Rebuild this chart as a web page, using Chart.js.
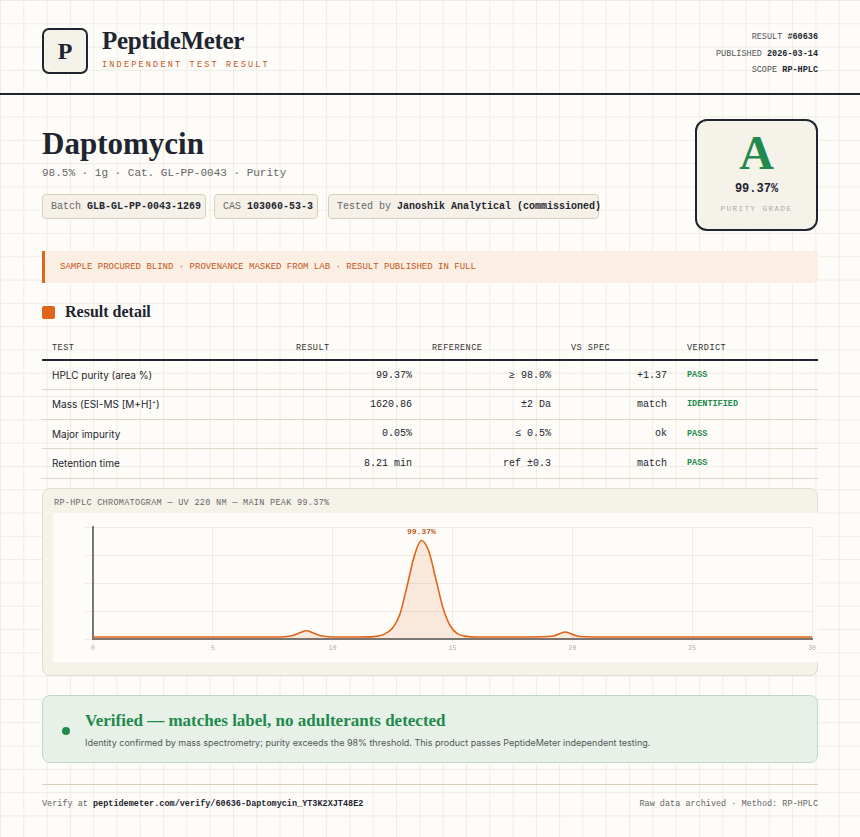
<!DOCTYPE html>
<html><head><meta charset="utf-8">
<script src="https://cdn.jsdelivr.net/npm/chart.js@4"></script>
<style>
*{box-sizing:border-box;margin:0;padding:0}
body{width:860px;height:837px;overflow:hidden;background-color:#fdfcf8;background-image:linear-gradient(#eeece4 1px,transparent 1px),linear-gradient(90deg,#eeece4 1px,transparent 1px);background-size:23.3px 23.3px;font-family:Inter,sans-serif;color:#1e2530;position:relative}
.mono{font-family:"Liberation Mono","DejaVu Sans Mono",monospace}
.serif{font-family:"Liberation Serif","DejaVu Serif",serif}
.abs{position:absolute}
.logo{left:42px;top:28px;width:46px;height:46px;border:2px solid #1e2530;border-radius:7px;background:#f5f2ea;display:flex;align-items:center;justify-content:center;font-size:24px;font-weight:bold}
.chip{position:absolute;top:194px;height:25px;border:1px solid #d9ceb8;border-radius:4px;background:#f5f1e8;font-size:10px;color:#666;line-height:23px;padding:0 8px;white-space:nowrap}
.chip b{color:#1e2530}
table{position:absolute;left:42px;top:337px;width:776px;border-collapse:collapse;font-size:10px}
th{font-family:"Liberation Mono",monospace;font-size:8.5px;font-weight:normal;color:#333;text-align:left;height:23px;border-bottom:2px solid #1e2530;letter-spacing:.5px}
td{height:29.5px;border-bottom:1px solid #ddd7c9;color:#1e2530}
td.r{text-align:right;font-family:"Liberation Mono",monospace}
td.v{font-family:"Liberation Mono",monospace;font-weight:bold;color:#1f8a4c;font-size:8.5px;padding-left:20px}
</style></head><body>
<div class="abs logo serif">P</div>
<div class="abs serif" style="left:102px;top:27px;font-size:25px;font-weight:bold;letter-spacing:-0.3px">PeptideMeter</div>
<div class="abs mono" style="left:102px;top:60px;font-size:8.5px;color:#c4561a;letter-spacing:2.2px">INDEPENDENT TEST RESULT</div>
<div class="abs mono" style="right:42px;top:29px;font-size:8.5px;color:#555;text-align:right;line-height:16.7px">RESULT <b style="color:#1e2530">#60636</b><br>PUBLISHED <b style="color:#1e2530">2026-03-14</b><br>SCOPE <b style="color:#1e2530">RP-HPLC</b></div>
<div class="abs" style="left:0;top:93px;width:860px;height:2px;background:#1e2530"></div>
<div class="abs serif" style="left:42px;top:126px;font-size:31px;font-weight:bold">Daptomycin</div>
<div class="abs mono" style="left:42px;top:167px;font-size:11px;color:#666">98.5% · 1g · Cat. GL-PP-0043 · Purity</div>
<div class="chip mono" style="left:42px;width:164px">Batch <b>GLB-GL-PP-0043-1269</b></div>
<div class="chip mono" style="left:214px;width:104px">CAS <b>103060-53-3</b></div>
<div class="chip mono" style="left:328px;width:271px">Tested by <b>Janoshik Analytical (commissioned)</b></div>
<div class="abs" style="left:695px;top:119px;width:123px;height:112px;border:2px solid #1e2530;border-radius:12px;background:#f5f2ea;text-align:center">
<div class="serif" style="font-size:48px;font-weight:bold;color:#1f8a4c;margin-top:7px;line-height:50px">A</div>
<div class="mono" style="font-size:12px;font-weight:bold;margin-top:4px">99.37%</div>
<div class="mono" style="font-size:7.5px;color:#aaa;letter-spacing:1.5px;margin-top:9px">PURITY GRADE</div></div>
<div class="abs mono" style="left:42px;top:251px;width:776px;height:32px;background:#fbeee2;border-left:3px solid #e0641a;font-size:9px;color:#c4561a;line-height:32px;padding-left:15px">SAMPLE PROCURED BLIND · PROVENANCE MASKED FROM LAB · RESULT PUBLISHED IN FULL</div>
<div class="abs" style="left:42px;top:306px;width:13px;height:13px;background:#e0641a;border-radius:2px"></div>
<div class="abs serif" style="left:65px;top:303px;font-size:16px;font-weight:bold">Result detail</div>
<table>
<tr><th style="padding-left:10px;width:200px">TEST</th><th style="width:170px;padding-left:54px">RESULT</th><th style="width:139px;padding-left:20px">REFERENCE</th><th style="width:116px;padding-left:20px">VS SPEC</th><th style="padding-left:20px">VERDICT</th></tr>
<tr><td style="padding-left:10px">HPLC purity (area %)</td><td class="r">99.37%</td><td class="r">≥ 98.0%</td><td class="r">+1.37</td><td class="v">PASS</td></tr>
<tr><td style="padding-left:10px">Mass (ESI-MS [M+H]<sup style="font-size:6px">+</sup>)</td><td class="r">1620.86</td><td class="r">±2 Da</td><td class="r">match</td><td class="v">IDENTIFIED</td></tr>
<tr><td style="padding-left:10px">Major impurity</td><td class="r">0.05%</td><td class="r">≤ 0.5%</td><td class="r">ok</td><td class="v">PASS</td></tr>
<tr><td style="padding-left:10px">Retention time</td><td class="r">8.21 min</td><td class="r">ref ±0.3</td><td class="r">match</td><td class="v">PASS</td></tr>
</table>
<div class="abs" style="left:42px;top:488px;width:776px;height:188px;background:#f5f2ea;border:1px solid #e2ddd0;border-radius:8px">
<div class="mono" style="position:absolute;left:11px;top:9px;font-size:8.5px;color:#666;letter-spacing:.3px">RP-HPLC CHROMATOGRAM — UV 220 NM — MAIN PEAK 99.37%</div>
<div style="position:absolute;left:10px;top:24px;width:765px;height:149px;background:#fdfcf8">
<canvas id="c" width="765" height="149"></canvas></div></div>
<div class="abs" style="left:42px;top:695px;width:776px;height:68px;background:#e7f1e8;border:1px solid #bcdac3;border-radius:8px">
<div style="position:absolute;left:19px;top:31px;width:8px;height:8px;border-radius:50%;background:#1f8a4c"></div>
<div class="serif" style="position:absolute;left:42px;top:15px;font-size:17px;font-weight:bold;color:#1f8a4c">Verified — matches label, no adulterants detected</div>
<div style="position:absolute;left:42px;top:41px;font-size:9px;color:#555">Identity confirmed by mass spectrometry; purity exceeds the 98% threshold. This product passes PeptideMeter independent testing.</div></div>
<div class="abs" style="left:42px;top:784px;width:776px;height:1px;background:#d9ceb8"></div>
<div class="abs mono" style="left:42px;top:799px;font-size:8.5px;color:#666">Verify at <b style="color:#1e2530">peptidemeter.com/verify/60636-Daptomycin_YT3K2XJT48E2</b></div>
<div class="abs mono" style="right:42px;top:799px;font-size:8.5px;color:#666">Raw data archived · Method: RP-HPLC</div>
<script>
const timeMin=[0,2,4,6,7.8,8.3,8.6,8.9,9.2,9.5,10,11,11.7,12.1,12.5,12.8,13.1,13.4,13.7,14.0,14.3,14.6,14.9,15.2,15.6,16,18,19.2,19.7,20.2,21,24,27,30];
const signal=[2,2,2,2,2,3,5.5,7.5,5.5,3,2,2,2.3,4,10,22,47,74,88,79,54,28,12,5,2.5,2,2,2.8,6.4,2.8,2,2,2,2];
const xTicks=[0,5,10,15,20,25,30];
const peakLabel="99.37%";
const pts=timeMin.map((t,i)=>({x:t,y:signal[i]}));
const lbl={id:'lbl',afterDatasetsDraw(ch){const c=ch.ctx,xs=ch.scales.x,ys=ch.scales.y;const i=signal.indexOf(Math.max(...signal));c.save();c.font='bold 8px "Liberation Mono",monospace';c.fillStyle='#c4561a';c.textAlign='center';c.fillText(peakLabel,xs.getPixelForValue(timeMin[i]),ys.getPixelForValue(signal[i])-6);c.restore();}};
new Chart(document.getElementById('c'),{type:'line',data:{datasets:[{data:pts,borderColor:'#e0641a',borderWidth:1.6,fill:true,backgroundColor:'rgba(224,100,26,0.12)',pointRadius:0,tension:0.4,cubicInterpolationMode:'monotone'}]},
options:{responsive:false,animation:false,layout:{padding:{left:32,right:5,top:14,bottom:8}},plugins:{legend:{display:false},tooltip:{enabled:false}},
scales:{x:{type:'linear',min:0,max:30,afterBuildTicks:a=>{a.ticks=xTicks.map(v=>({value:v}))},ticks:{color:'#aaa',font:{size:6.5,family:'Liberation Mono'},maxRotation:0,padding:2},grid:{color:'#efebe0',tickLength:3},border:{color:'#777',width:2}},
y:{min:0,max:100,ticks:{display:false,stepSize:25},grid:{color:'#efebe0'},border:{color:'#777',width:2}}}},plugins:[lbl]});
</script></body></html>
